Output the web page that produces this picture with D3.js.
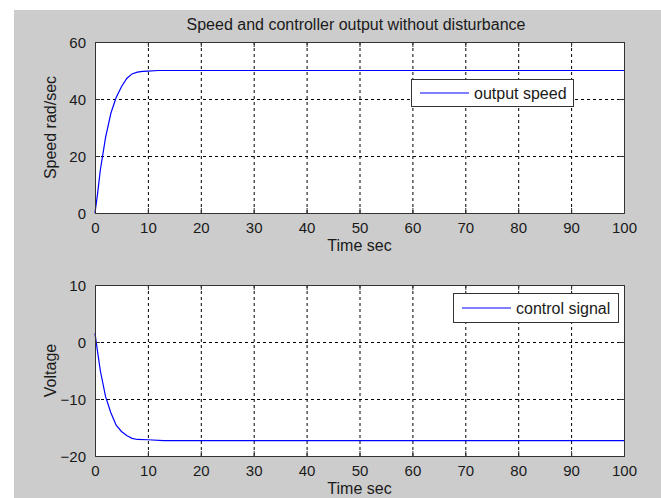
<!DOCTYPE html>
<html>
<head>
<meta charset="utf-8">
<script src="https://cdn.jsdelivr.net/npm/d3@7"></script>
<style>
  body { margin: 0; background: #fff; }
  text { font-family: "Liberation Sans", Arial, sans-serif; fill: #1a1a1a; }
</style>
</head>
<body>
<div id="chart"></div>
<script>
// values
const speedTime = [0, 0.5, 1, 2, 3, 4, 5, 6, 7, 8, 9, 10, 12, 100];
const speedVal  = [0, 7, 15, 26.5, 35, 40.5, 44.3, 47.2, 48.8, 49.4, 49.7, 49.8, 50, 50];
const ctrlTime  = [0, 0.3, 1, 2, 3, 4, 5, 6, 7, 8, 10, 13, 100];
const ctrlVal   = [1.5, -0.5, -5, -9.6, -12.4, -14.6, -15.7, -16.4, -16.9, -17.1, -17.15, -17.3, -17.3];
const xTicks = [0, 10, 20, 30, 40, 50, 60, 70, 80, 90, 100];
const speedTicks = [0, 20, 40, 60];
const ctrlTicks = [-20, -10, 0, 10];

const width = 661, height = 498;

const svg = d3.select("#chart")
  .append("svg")
  .attr("width", width)
  .attr("height", height);

// figure background
svg.append("rect")
  .attr("x", 14).attr("y", 10)
  .attr("width", width - 14).attr("height", height - 10)
  .attr("fill", "#cccccc");

svg.append("text")
  .attr("x", 356).attr("y", 30)
  .attr("text-anchor", "middle")
  .style("font-size", "16px")
  .text("Speed and controller output without disturbance");

function panel(top, times, vals, yTicks, yLabel, legendText, legendBox) {
  const left = 95, right = 624, bottom = top + 171;
  const x = d3.scaleLinear().domain([0, 100]).range([left, right]);
  const y = d3.scaleLinear().domain(d3.extent(yTicks)).range([bottom, top]);

  const g = svg.append("g");

  g.append("rect")
    .attr("x", left).attr("y", top)
    .attr("width", right - left).attr("height", bottom - top)
    .attr("fill", "#fff");

  // dashed grid
  g.selectAll("line.gx")
    .data(xTicks.slice(1, -1))
    .join("line")
    .attr("class", "gx")
    .attr("x1", d => x(d) + 0.5).attr("x2", d => x(d) + 0.5)
    .attr("y1", top).attr("y2", bottom)
    .attr("stroke", "#000").attr("stroke-dasharray", "3,3");

  g.selectAll("line.gy")
    .data(yTicks.slice(1, -1))
    .join("line")
    .attr("class", "gy")
    .attr("x1", left).attr("x2", right)
    .attr("y1", d => Math.round(y(d)) + 0.5).attr("y2", d => Math.round(y(d)) + 0.5)
    .attr("stroke", "#000").attr("stroke-dasharray", "3,3");

  // curve
  const line = d3.line().x(d => x(d[0])).y(d => y(d[1]));
  g.append("path")
    .datum(d3.zip(times, vals))
    .attr("d", line)
    .attr("fill", "none")
    .attr("stroke", "#0000ff")
    .attr("stroke-width", 1.2);

  // axes with inward ticks
  const ax = d3.axisBottom(x).tickValues(xTicks).tickSize(-5).tickPadding(9);
  const ay = d3.axisLeft(y).tickValues(yTicks).tickSize(-5).tickPadding(9);
  const gx = g.append("g").attr("transform", `translate(0,${bottom})`).call(ax);
  const gy = g.append("g").attr("transform", `translate(${left},0)`).call(ay);
  g.append("g").attr("transform", `translate(0,${top})`)
    .call(d3.axisTop(x).tickValues(xTicks).tickSize(-5).tickFormat(""));
  g.append("g").attr("transform", `translate(${right},0)`)
    .call(d3.axisRight(y).tickValues(yTicks).tickSize(-5).tickFormat(""));

  g.selectAll(".domain").attr("stroke", "#333");
  g.selectAll(".tick line").attr("stroke", "#333");
  g.selectAll(".tick text")
    .style("font-size", "15px")
    .style("font-family", "'Liberation Sans', Arial, sans-serif")
    .attr("fill", "#1a1a1a");
  gy.selectAll(".tick text").attr("dy", "0.35em");

  g.append("text")
    .attr("x", (left + right) / 2).attr("y", bottom + 38)
    .attr("text-anchor", "middle")
    .style("font-size", "16px")
    .text("Time sec");

  g.append("text")
    .attr("transform", `translate(${left - 39},${(top + bottom) / 2}) rotate(-90)`)
    .attr("text-anchor", "middle")
    .style("font-size", "16px")
    .text(yLabel);

  // legend
  const [lx, ly, lw, lh] = legendBox;
  const lg = g.append("g").attr("transform", `translate(${lx},${ly})`);
  lg.append("rect")
    .attr("x", 0.5).attr("y", 0.5)
    .attr("width", lw).attr("height", lh)
    .attr("fill", "#fff").attr("stroke", "#333");
  lg.append("line")
    .attr("x1", 9).attr("x2", 58)
    .attr("y1", lh / 2 + 0.5).attr("y2", lh / 2 + 0.5)
    .attr("stroke", "#0000ff");
  lg.append("text")
    .attr("x", 63).attr("y", lh / 2 + 6)
    .style("font-size", "16px")
    .text(legendText);
}

panel(42, speedTime, speedVal, speedTicks, "Speed rad/sec", "output speed", [411, 79, 162, 27]);
panel(285, ctrlTime, ctrlVal, ctrlTicks, "Voltage", "control signal", [453, 293, 165, 29]);
</script>
</body>
</html>
